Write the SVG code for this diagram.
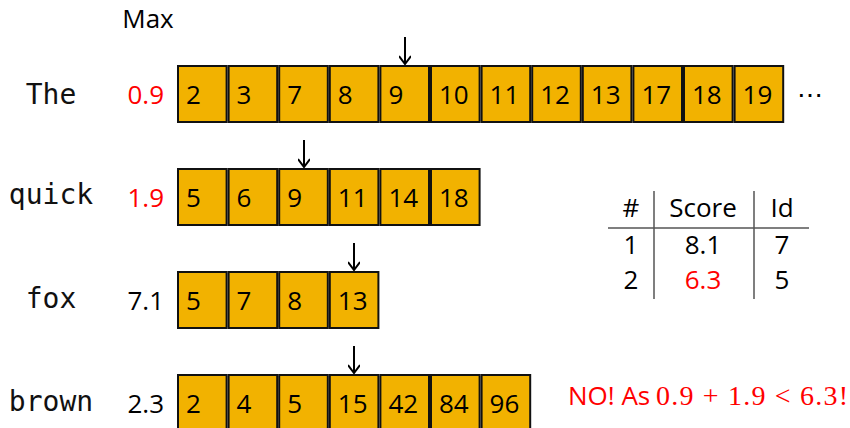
<svg xmlns="http://www.w3.org/2000/svg" width="850" height="428" viewBox="0 0 850 428">
<defs>
<style>
.b{fill:#F2B200;stroke:#111;stroke-width:2}
.n{font-family:"Open Sans","Liberation Sans",sans-serif;font-size:26px;fill:#000}
.lbl{font-family:"DejaVu Sans Mono","Liberation Mono",monospace;font-size:28px;fill:#111;text-anchor:middle}
.mx{font-family:"Open Sans","Liberation Sans",sans-serif;font-size:26px;text-anchor:end}
.red{fill:#FF0000}
.c{text-anchor:middle}
.ar{stroke:#000;stroke-width:2;fill:none}
.tl{stroke:#555;stroke-width:1.5}
</style>
<marker id="ah" viewBox="0 0 10 12" refX="9" refY="6" markerWidth="10" markerHeight="12" markerUnits="userSpaceOnUse" orient="auto">
<path d="M1,0 L9,6 L1,12" fill="none" stroke="#000" stroke-width="2"/>
</marker>
</defs>
<rect width="850" height="428" fill="#fff"/>
<text class="n c" x="148" y="28" font-size="24">Max</text>

<g id="row-the">
<text class="lbl" x="51" y="104">The</text>
<text class="mx red" x="164" y="104">0.9</text>
<rect class="b" x="178" y="66" width="48.6" height="56"/>
<rect class="b" x="228.6" y="66" width="48.6" height="56"/>
<rect class="b" x="279.2" y="66" width="48.6" height="56"/>
<rect class="b" x="329.8" y="66" width="48.6" height="56"/>
<rect class="b" x="380.4" y="66" width="48.6" height="56"/>
<rect class="b" x="431" y="66" width="48.6" height="56"/>
<rect class="b" x="481.6" y="66" width="48.6" height="56"/>
<rect class="b" x="532.2" y="66" width="48.6" height="56"/>
<rect class="b" x="582.8" y="66" width="48.6" height="56"/>
<rect class="b" x="633.4" y="66" width="48.6" height="56"/>
<rect class="b" x="684" y="66" width="48.6" height="56"/>
<rect class="b" x="734.6" y="66" width="48.6" height="56"/>
<text class="n" y="104"><tspan x="186">2</tspan><tspan x="236.6">3</tspan><tspan x="287.2">7</tspan><tspan x="337.8">8</tspan><tspan x="388.4">9</tspan><tspan x="439">10</tspan><tspan x="489.6">11</tspan><tspan x="540.2">12</tspan><tspan x="590.8">13</tspan><tspan x="641.4">17</tspan><tspan x="692">18</tspan><tspan x="742.6">19</tspan></text>
<text class="n" x="797" y="104" font-family="DejaVu Sans" font-size="24">⋯</text>
</g>

<g id="row-quick">
<text class="lbl" x="51" y="204">quick</text>
<text class="mx red" x="164" y="207">1.9</text>
<rect class="b" x="178" y="169" width="48.6" height="56"/>
<rect class="b" x="228.6" y="169" width="48.6" height="56"/>
<rect class="b" x="279.2" y="169" width="48.6" height="56"/>
<rect class="b" x="329.8" y="169" width="48.6" height="56"/>
<rect class="b" x="380.4" y="169" width="48.6" height="56"/>
<rect class="b" x="431" y="169" width="48.6" height="56"/>
<text class="n" y="207"><tspan x="186">5</tspan><tspan x="236.6">6</tspan><tspan x="287.2">9</tspan><tspan x="337.8">11</tspan><tspan x="388.4">14</tspan><tspan x="439">18</tspan></text>
</g>

<g id="row-fox">
<text class="lbl" x="51" y="308">fox</text>
<text class="mx" x="164" y="310">7.1</text>
<rect class="b" x="178" y="272" width="48.6" height="56"/>
<rect class="b" x="228.6" y="272" width="48.6" height="56"/>
<rect class="b" x="279.2" y="272" width="48.6" height="56"/>
<rect class="b" x="329.8" y="272" width="48.6" height="56"/>
<text class="n" y="310"><tspan x="186">5</tspan><tspan x="236.6">7</tspan><tspan x="287.2">8</tspan><tspan x="337.8">13</tspan></text>
</g>

<g id="row-brown">
<text class="lbl" x="51" y="411">brown</text>
<text class="mx" x="164" y="413">2.3</text>
<rect class="b" x="178" y="375" width="48.6" height="56"/>
<rect class="b" x="228.6" y="375" width="48.6" height="56"/>
<rect class="b" x="279.2" y="375" width="48.6" height="56"/>
<rect class="b" x="329.8" y="375" width="48.6" height="56"/>
<rect class="b" x="380.4" y="375" width="48.6" height="56"/>
<rect class="b" x="431" y="375" width="48.6" height="56"/>
<rect class="b" x="481.6" y="375" width="48.6" height="56"/>
<text class="n" y="413"><tspan x="186">2</tspan><tspan x="236.6">4</tspan><tspan x="287.2">5</tspan><tspan x="337.8">15</tspan><tspan x="388.4">42</tspan><tspan x="439">84</tspan><tspan x="489.6">96</tspan></text>
</g>

<g id="connectors">
<path class="ar" d="M405,37 V64" marker-end="url(#ah)"/>
<path class="ar" d="M304,140 V167" marker-end="url(#ah)"/>
<path class="ar" d="M354,243 V270" marker-end="url(#ah)"/>
<path class="ar" d="M354,346 V373" marker-end="url(#ah)"/>
</g>

<g id="result-table">
<line class="tl" x1="654" y1="191" x2="654" y2="299"/>
<line class="tl" x1="754" y1="191" x2="754" y2="299"/>
<line class="tl" x1="608" y1="228" x2="809" y2="228"/>
<text class="n c" y="217"><tspan x="631">#</tspan><tspan x="703">Score</tspan><tspan x="782">Id</tspan></text>
<text class="n c" y="254"><tspan x="631">1</tspan><tspan x="703">8.1</tspan><tspan x="782">7</tspan></text>
<text class="n c" y="289"><tspan x="631">2</tspan><tspan x="703" fill="#FF0000">6.3</tspan><tspan x="782">5</tspan></text>
</g>

<g id="note">
<text class="n red" x="568" y="405" font-size="25">NO! As</text>
<text x="656" y="405" font-family="Liberation Serif,serif" font-size="28" fill="#FF0000" textLength="192" lengthAdjust="spacing">0.9 + 1.9 &lt; 6.3!</text>
</g>
</svg>
